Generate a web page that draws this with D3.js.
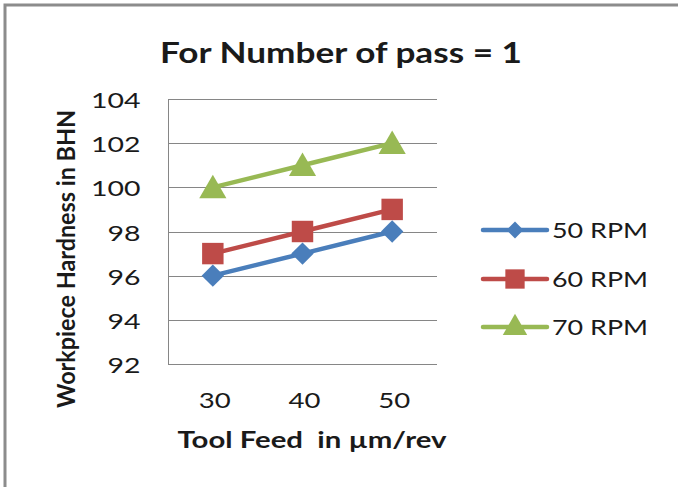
<!DOCTYPE html>
<html lang="en">
<head>
    <meta charset="UTF-8">
    <title>Workpiece Hardness</title>
    <script src="https://d3js.org/d3.v7.min.js"></script>
    <style>
        body { margin: 0; background: #fff; }
        text { font-family: Lato, "Liberation Sans", sans-serif; fill: #1a1a1a; }
        .grid line { stroke: #868686; stroke-width: 1; }
        .axis path, .axis line { stroke: #868686; }
        .tick text { font-size: 22px; }
        .series { fill: none; stroke-width: 4.5; stroke-linejoin: round; stroke-linecap: round; }
    </style>
</head>
<body>
    <svg width="678" height="487" id="chart"></svg>
    <script>
        // Data
        const categories = ["30", "40", "50"];
        const seriesNames = ["50 RPM", "60 RPM", "70 RPM"];
        const rpm50 = [96, 97, 98];
        const rpm60 = [97, 98, 99];
        const rpm70 = [100, 101, 102];
        const yTicks = [92, 94, 96, 98, 100, 102, 104];

        const colors = ["#4A7EBB", "#BE4B48", "#98B954"];
        const seriesValues = [rpm50, rpm60, rpm70];

        // marker shapes: diamond (rotated square), square, triangle
        const markerPath = (s, scale) => {
            if (s === 0) return d3.symbol().type(d3.symbolSquare).size(250 * scale * scale)();
            if (s === 1) return d3.symbol().type(d3.symbolSquare).size(460 * scale * scale)();
            return d3.symbol().type(d3.symbolTriangle).size(320 * scale * scale)();
        };
        const markerRot = s => (s === 0 ? 45 : 0);

        const svg = d3.select("#chart");

        // the picture is a little wider than tall, so text is stretched sideways
        const stretch = (sel, width) => sel
            .attr("textLength", width)
            .attr("lengthAdjust", "spacingAndGlyphs");

        // outer frame (only top and left edges visible)
        svg.append("path")
            .attr("d", "M5,487 L5,5 L678,5")
            .attr("fill", "none")
            .attr("stroke", "#8c8c8c")
            .attr("stroke-width", 3);

        const plot = { left: 168, right: 437, top: 99, bottom: 364 };

        const x = d3.scaleBand()
            .domain(categories)
            .range([plot.left, plot.right]);

        const y = d3.scaleLinear()
            .domain([92, 104])
            .range([plot.bottom, plot.top]);

        // gridlines
        svg.append("g")
            .attr("class", "grid")
            .selectAll("line")
            .data(yTicks.slice(1))
            .join("line")
            .attr("x1", plot.left)
            .attr("x2", plot.right)
            .attr("y1", d => Math.round(y(d)) + 0.5)
            .attr("y2", d => Math.round(y(d)) + 0.5);

        // y axis
        const yAxis = svg.append("g")
            .attr("class", "axis")
            .attr("transform", `translate(${plot.left + 0.5},0.5)`)
            .call(d3.axisLeft(y).tickValues(yTicks).tickSize(0).tickPadding(28));
        yAxis.select(".domain").attr("d", `M0,${plot.top}V${plot.bottom}`);
        yAxis.selectAll(".tick text")
            .attr("dy", null)
            .attr("y", 8)
            .each(function (d) { stretch(d3.select(this), String(d).length * 16.5); });

        // x axis
        const xAxis = svg.append("g")
            .attr("class", "axis")
            .attr("transform", `translate(0,${plot.bottom + 0.5})`)
            .call(d3.axisBottom(x).tickSize(0));
        xAxis.select(".domain").attr("d", `M${plot.left},0H${plot.right}`);
        xAxis.selectAll(".tick text")
            .attr("dy", null)
            .attr("y", 43)
            .attr("x", 2)
            .each(function (d) { stretch(d3.select(this), d.length * 16); });

        // lines and markers
        const cx = c => x(c) + x.bandwidth() / 2;
        const line = d3.line()
            .x((d, i) => cx(categories[i]))
            .y(d => y(d));

        seriesValues.forEach((vals, s) => {
            svg.append("path")
                .datum(vals)
                .attr("class", "series")
                .attr("stroke", colors[s])
                .attr("d", line);

            svg.append("g")
                .selectAll("path")
                .data(vals)
                .join("path")
                .attr("d", markerPath(s, 1))
                .attr("fill", colors[s])
                .attr("transform", (d, i) =>
                    `translate(${cx(categories[i])},${y(d) + (s === 2 ? 3 : 0)}) rotate(${markerRot(s)})`);
        });

        // title
        stretch(svg.append("text")
            .attr("x", 341)
            .attr("y", 63)
            .attr("text-anchor", "middle")
            .style("font-size", "28px")
            .style("font-weight", "bold")
            .text("For Number of pass = 1"), 362);

        // axis titles
        stretch(svg.append("text")
            .attr("x", 312)
            .attr("y", 448)
            .attr("text-anchor", "middle")
            .style("font-size", "23px")
            .style("font-weight", "bold")
            .style("white-space", "pre")
            .text("Tool Feed  in \u00b5m/rev"), 269);

        stretch(svg.append("text")
            .attr("transform", "translate(75,259) scale(1.15,1) rotate(-90)")
            .attr("text-anchor", "middle")
            .style("font-size", "22px")
            .style("font-weight", "bold")
            .text("Workpiece Hardness in BHN"), 298);

        // legend
        const legendY = [230, 279, 327];
        const legend = svg.append("g");
        seriesNames.forEach((name, s) => {
            const g = legend.append("g").attr("transform", `translate(0,${legendY[s]})`);
            g.append("line")
                .attr("x1", 483).attr("x2", 547)
                .attr("stroke", colors[s])
                .attr("stroke-width", 4.5)
                .attr("stroke-linecap", "round");
            g.append("path")
                .attr("d", markerPath(s, s === 0 ? 0.75 : 0.9))
                .attr("fill", colors[s])
                .attr("transform", `translate(515,${s === 2 ? 1 : 0}) rotate(${markerRot(s)})`);
            stretch(g.append("text")
                .attr("x", 552)
                .attr("y", 8)
                .style("font-size", "22px")
                .text(name), 96);
        });
    </script>
</body>
</html>
